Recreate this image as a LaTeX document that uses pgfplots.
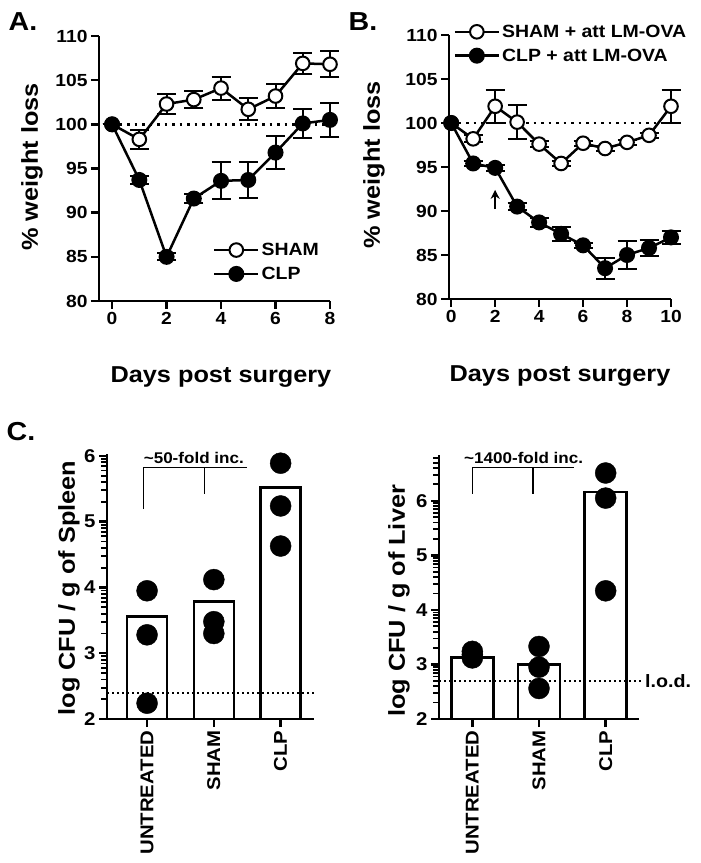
\documentclass[border=0pt]{standalone}
\usepackage{fontspec}
\setmainfont{Liberation Sans}[FakeStretch=1.1]
\usepackage{pgfplots}
\pgfplotsset{compat=1.18}
\usetikzlibrary{arrows.meta}

\pgfplotsset{
  mystyle/.style={
    scale only axis,
    axis x line*=bottom, axis y line*=left,
    axis line style={line width=2.5pt},
    every tick/.style={line width=2.5pt, black},
    major tick length=8pt,
    minor tick length=5pt,
    tick align=outside,
    /pgf/number format/assume math mode=true,
    tick label style={font=\fontsize{17.5}{18}\selectfont\bfseries},
    label style={font=\fontsize{23}{24}\selectfont\bfseries},
  },
  sham/.style={black, line width=2.5pt, mark=*, mark options={fill=white, line width=2pt, mark size=6.8pt, solid}},
  clp/.style={black, line width=2.5pt, mark=*, mark options={fill=black, line width=2pt, mark size=7pt, solid}},
  eb/.style={error bars/.cd, y dir=both, y explicit, error mark=-, error bar style={line width=2pt, solid}, error mark options={rotate=90, line width=2pt, mark size=9.5pt}},
  leg/.style={legend cell align=left,
    legend style={draw=none, fill=none, inner sep=0pt, row sep=6pt,
      font=\fontsize{17.7}{19}\selectfont\bfseries,
      /tikz/every even column/.append style={column sep=3pt}},
    legend image code/.code={\draw[mark repeat=2, mark phase=2, ##1] plot coordinates {(0pt,0pt)(22pt,0pt)(44pt,0pt)};}},
  refline/.style={black, line width=2.5pt, dash pattern=on 2.5pt off 5pt, forget plot},
}

\pgfplotstableread{
x y e
0 100 0
1 98.3 1.1
2 102.3 1.1
3 102.8 1.0
4 104.1 1.3
5 101.7 1.25
6 103.2 1.35
7 106.9 1.2
8 106.8 1.45
}\shamA
\pgfplotstableread{
x y e
0 100 0
1 93.7 0.5
2 85.0 0.4
3 91.6 0.5
4 93.6 2.1
5 93.7 2.0
6 96.8 1.9
7 100.1 1.6
8 100.5 1.9
}\clpA
\pgfplotstableread{
x y e
0 100 0
1 98.2 0.4
2 101.9 1.9
3 100.1 1.9
4 97.6 0.3
5 95.4 0.3
6 97.7 0.3
7 97.1 0.3
8 97.8 0.3
9 98.6 0.3
10 101.9 1.9
}\shamB
\pgfplotstableread{
x y e
0 100 0
1 95.4 0.3
2 94.9 0.3
3 90.5 0.4
4 88.7 0.5
5 87.4 0.8
6 86.1 0.3
7 83.5 1.2
8 85.0 1.6
9 85.8 0.9
10 87.0 0.7
}\clpB

\begin{document}
\begin{tikzpicture}
\useasboundingbox (0,0) rectangle (701pt,863pt);

% Panel labels
\node[font=\fontsize{26}{26}\selectfont\bfseries] at (23pt,841pt) {A.};
\node[font=\fontsize{26}{26}\selectfont\bfseries] at (363pt,841pt) {B.};
\node[font=\fontsize{26}{26}\selectfont\bfseries] at (21pt,431pt) {C.};

% Panel A
\begin{axis}[mystyle, leg, clip=false,
  at={(99pt,562pt)}, anchor=south west, width=231pt, height=265pt,
  xmin=-0.48, xmax=8, ymin=80, ymax=110,
  xtick={0,2,4,6,8}, ytick={80,85,...,110},
  xlabel={Days post surgery}, ylabel={\% weight loss},
  xlabel style={at={(axis description cs:0.528,-0.287)}, anchor=center},
  ylabel style={at={(axis description cs:-0.29,0.506)}, anchor=center},
  legend style={at={(axis cs:3.7,86.8)}, anchor=north west},
]
\addplot[refline] coordinates {(0,100) (8,100)};
\addplot[sham, eb] table[x=x, y=y, y error=e] {\shamA};
\addlegendentry{SHAM}
\addplot[clp, eb] table[x=x, y=y, y error=e] {\clpA};
\addlegendentry{CLP}
\end{axis}

% Panel B
\begin{axis}[mystyle, leg, clip=false,
  at={(449pt,564pt)}, anchor=south west, width=222pt, height=264pt,
  xmin=-0.1, xmax=10, ymin=80, ymax=110,
  xtick={0,2,...,10}, ytick={80,85,...,110},
  xlabel={Days post surgery}, ylabel={\% weight loss},
  xlabel style={at={(axis description cs:0.5,-0.292)}, anchor=center},
  ylabel style={at={(axis description cs:-0.338,0.508)}, anchor=center},
  legend style={at={(axis cs:0.1,111.4)}, anchor=north west},
]
\addplot[refline] coordinates {(0,100) (10,100)};
\addplot[sham, eb] table[x=x, y=y, y error=e] {\shamB};
\addlegendentry{SHAM + att LM-OVA}
\addplot[clp, eb] table[x=x, y=y, y error=e] {\clpB};
\addlegendentry{CLP + att LM-OVA}
\draw[-{Stealth[length=9pt,width=9pt]}, line width=2.5pt] (axis cs:2,90.2) -- (axis cs:2,92.4);
\end{axis}

% Panel C left (spleen)
\begin{axis}[mystyle, clip mode=individual,
  tick label style={font=\fontsize{18.5}{19}\selectfont\bfseries},
  at={(107pt,144pt)}, anchor=south west, width=207pt, height=265pt,
  xmin=-0.6, xmax=2.5, ymin=2, ymax=6.03,
  xtick={0,1,2}, xticklabels={UNTREATED,SHAM,CLP},
  xticklabel style={rotate=90, anchor=east},
  ytick={2,3,4,5,6},
  minor ytick={2.301,2.477,2.602,2.699,2.778,2.845,2.903,2.954,
               3.301,3.477,3.602,3.699,3.778,3.845,3.903,3.954,
               4.301,4.477,4.602,4.699,4.778,4.845,4.903,4.954,
               5.301,5.477,5.602,5.699,5.778,5.845,5.903,5.954},
  minor tick style={line width=1.8pt},
  minor tick length=6pt,
  ylabel={log CFU / g of Spleen},
  ylabel style={at={(axis description cs:-0.184,0.494)}, anchor=center},
]
\addplot[ybar, bar width=0.6, fill=white, draw=black, line width=2.5pt] coordinates {(0,3.56) (1,3.785) (2,5.52)};
\addplot[only marks, mark=*, mark size=10.5pt, black] coordinates {
  (0,3.95) (0,3.28) (0,2.24)
  (1,4.12) (1,3.48) (1,3.30)
  (2,5.89) (2,5.24) (2,4.63)};
\draw[black, line width=2pt, dash pattern=on 2pt off 3pt] (axis cs:-0.6,2.4) -- (axis cs:2.51,2.4);
\draw[line width=1.3pt] (axis cs:-0.05,5.19) -- (axis cs:-0.05,5.82) -- (axis cs:1.49,5.82);
\draw[line width=1.3pt] (axis cs:0.86,5.82) -- (axis cs:0.86,5.42);
\node[font=\fontsize{15.5}{16}\selectfont\bfseries] at (axis cs:0.70,5.97) {\textasciitilde 50-fold inc.};
\end{axis}

% Panel C right (liver)
\begin{axis}[mystyle, clip mode=individual,
  tick label style={font=\fontsize{18.5}{19}\selectfont\bfseries},
  at={(439pt,144pt)}, anchor=south west, width=200pt, height=264pt,
  xmin=-0.5, xmax=2.5, ymin=2, ymax=6.84,
  xtick={0,1,2}, xticklabels={UNTREATED,SHAM,CLP},
  xticklabel style={rotate=90, anchor=east},
  ytick={2,3,4,5,6},
  minor ytick={2.301,2.477,2.602,2.699,2.778,2.845,2.903,2.954,
               3.301,3.477,3.602,3.699,3.778,3.845,3.903,3.954,
               4.301,4.477,4.602,4.699,4.778,4.845,4.903,4.954,
               5.301,5.477,5.602,5.699,5.778,5.845,5.903,5.954,
               6.301,6.477,6.602,6.699,6.778},
  minor tick style={line width=1.8pt},
  minor tick length=6pt,
  ylabel={log CFU / g of Liver},
  ylabel style={at={(axis description cs:-0.2,0.447)}, anchor=center},
]
\addplot[ybar, bar width=0.63, fill=white, draw=black, line width=2.5pt] coordinates {(0,3.125) (1,3.0) (2,6.16)};
\addplot[only marks, mark=*, mark size=10.5pt, black] coordinates {
  (0,3.24) (0,3.18) (0,3.12)
  (1,3.33) (1,2.95) (1,2.56)
  (2,6.51) (2,6.05) (2,4.35)};
\draw[black, line width=2pt, dash pattern=on 2pt off 3pt] (axis cs:-0.5,2.7) -- (axis cs:2.56,2.7);
\node[font=\fontsize{17.9}{18}\selectfont\bfseries, anchor=west, inner sep=0pt] at (axis cs:2.59,2.7) {l.o.d.};
\draw[line width=1.3pt] (axis cs:0,6.13) -- (axis cs:0,6.61) -- (axis cs:1.52,6.61);
\draw[line width=1.3pt] (axis cs:0.91,6.61) -- (axis cs:0.91,6.13);
\node[font=\fontsize{15.5}{16}\selectfont\bfseries] at (axis cs:0.77,6.79) {\textasciitilde 1400-fold inc.};
\end{axis}
\end{tikzpicture}
\end{document}
